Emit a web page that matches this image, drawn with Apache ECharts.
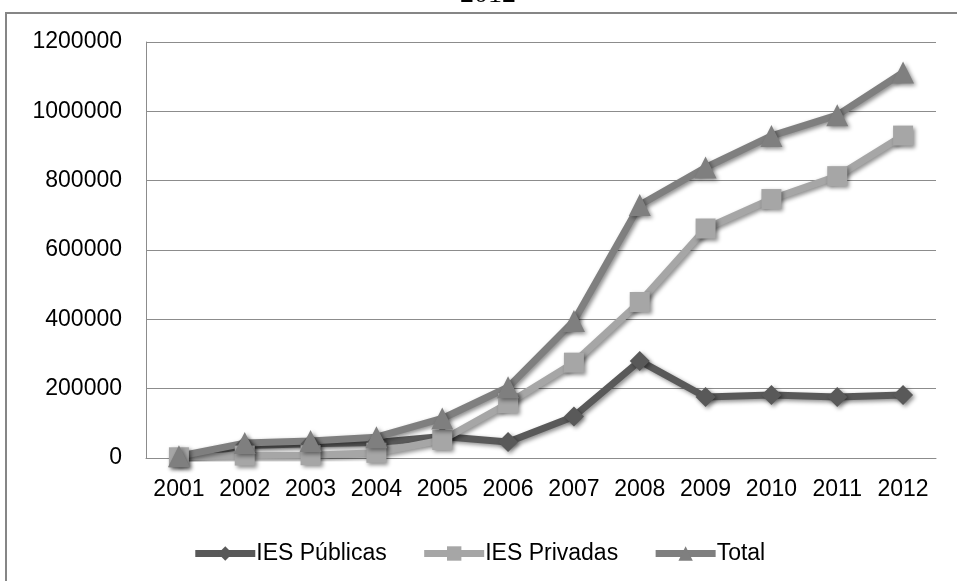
<html>
  <head>
    <script src="https://cdn.jsdelivr.net/npm/echarts@6/dist/echarts.min.js"></script>
  </head>
  <body style="margin:0; background:#ffffff;">
    <div id="chart" style="width:957px; height:581px;"></div>
    <script>
      const years = ['2001', '2002', '2003', '2004', '2005', '2006', '2007', '2008', '2009', '2010', '2011', '2012'];
      const publicas = [3000, 36000, 41000, 45000, 62000, 46000, 120000, 280000, 176000, 182000, 176000, 182000];
      const privadas = [2000, 7000, 8000, 15000, 52000, 158000, 275000, 450000, 662000, 747000, 813000, 930000];
      const total = [5000, 43000, 49000, 60000, 114000, 204000, 395000, 730000, 838000, 929000, 989000, 1112000];

      const font = '"Liberation Sans", Arial, sans-serif';
      const shadow = { shadowBlur: 4, shadowColor: 'rgba(0,0,0,0.45)', shadowOffsetX: 2, shadowOffsetY: 2 };

      function serie(name, data, color, symbol, size) {
        return {
          name: name,
          type: 'line',
          data: data,
          symbol: symbol,
          symbolSize: size,
          lineStyle: Object.assign({ color: color, width: 7 }, shadow),
          itemStyle: Object.assign({ color: color }, shadow),
          z: 3
        };
      }

      const chart = echarts.init(document.getElementById('chart'));
      chart.setOption({
        animation: false,
        backgroundColor: '#ffffff',
        graphic: [
          { type: 'rect', shape: { x: 6, y: 13, width: 1000, height: 600 },
            style: { fill: 'none', stroke: '#868686', lineWidth: 2 }, z: -1 },
          { type: 'text', x: 488, y: -19,
            style: { text: '2012', font: '28px "Liberation Serif", serif', fill: '#000', align: 'center' } }
        ],
        grid: { left: 146, right: 21, top: 42, bottom: 123 },
        legend: {
          top: 537,
          left: 'center',
          itemWidth: 60,
          itemHeight: 18,
          itemGap: 34,
          lineStyle: { width: 7 },
          textStyle: { fontFamily: font, fontSize: 23, color: '#000', padding: [0, 0, 0, -4] },
          data: ['IES Públicas', 'IES Privadas', 'Total']
        },
        xAxis: {
          type: 'category',
          data: years,
          boundaryGap: true,
          axisLine: { lineStyle: { color: '#8c8c8c', width: 1 } },
          axisTick: { show: false },
          axisLabel: { fontFamily: font, fontSize: 23, color: '#000', margin: 20, interval: 0 }
        },
        yAxis: {
          type: 'value',
          min: 0,
          max: 1200000,
          interval: 200000,
          axisLine: { show: true, lineStyle: { color: '#8c8c8c', width: 1 } },
          axisTick: { show: false },
          splitLine: { lineStyle: { color: '#8c8c8c', width: 1 } },
          axisLabel: { fontFamily: font, fontSize: 23, color: '#000', margin: 24, formatter: v => String(v) }
        },
        series: [
          serie('IES Públicas', publicas, '#595959', 'diamond', 20),
          serie('IES Privadas', privadas, '#a6a6a6', 'rect', 20),
          serie('Total', total, '#7f7f7f', 'triangle', 22)
        ]
      });
    </script>
  </body>
</html>
